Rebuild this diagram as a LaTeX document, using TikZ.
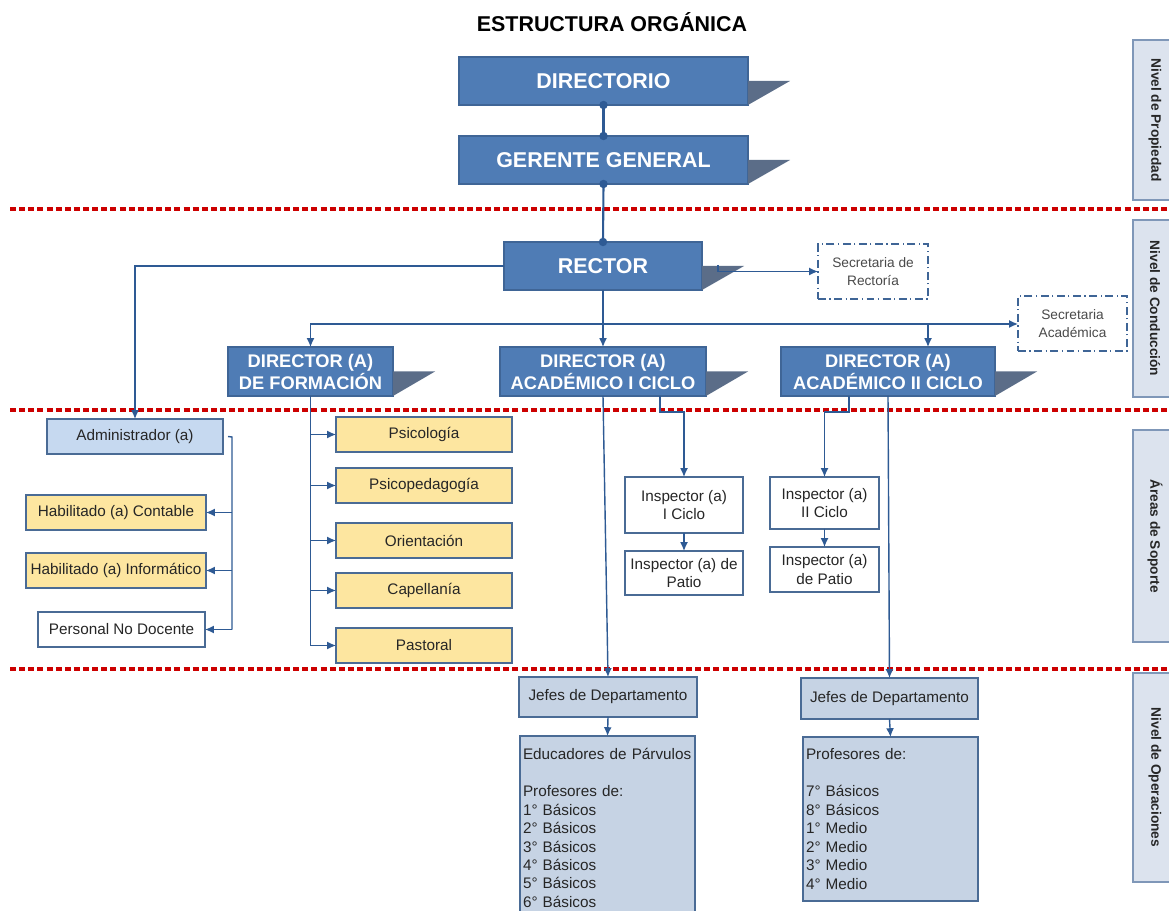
\documentclass[tikz,border=0pt]{standalone}
\usepackage{fontspec}
\setmainfont{Liberation Sans}
\usetikzlibrary{arrows.meta}
\definecolor{mblue}{HTML}{4F7CB5}
\definecolor{mborder}{HTML}{3F6596}
\definecolor{shadowc}{HTML}{5B6D88}
\definecolor{conn}{HTML}{2E5A94}
\definecolor{jefefill}{HTML}{C6D3E4}
\definecolor{jefeborder}{HTML}{4A6B95}
\definecolor{yellowfill}{HTML}{FDE6A0}
\definecolor{adminfill}{HTML}{C6D9F0}
\definecolor{levelfill}{HTML}{DCE3EE}
\definecolor{levelborder}{HTML}{7F97B8}
\definecolor{redline}{HTML}{CC0000}
\definecolor{darktext}{HTML}{262626}
\definecolor{graytext}{HTML}{4A4A4A}
\begin{document}
\begin{tikzpicture}[x=0.02cm,y=-0.02cm,
  wh/.style 2 args={minimum width=#1*0.02cm, minimum height=#2*0.02cm},
  basebox/.style={draw, rectangle, inner sep=0pt, outer sep=0pt, line width=0.6pt, align=center},
  bluebox/.style={basebox, fill=mblue, draw=mborder, text=white, font=\bfseries},
  bigfont/.style={font=\fontsize{12.2}{14}\selectfont\bfseries},
  midfont/.style={font=\fontsize{10.4}{12.5}\selectfont\bfseries},
  smallfont/.style={font=\fontsize{8.7}{10.5}\selectfont},
  yellowbox/.style={basebox, fill=yellowfill, draw=jefeborder, text=darktext, smallfont},
  whitebox/.style={basebox, fill=white, draw=jefeborder, text=darktext, smallfont},
  adminbox/.style={basebox, fill=adminfill, draw=jefeborder, text=darktext, smallfont},
  jefebox/.style={basebox, fill=jefefill, draw=jefeborder, text=darktext, smallfont},
  secbox/.style={basebox, fill=white, draw=mborder, text=graytext, line width=1.1pt,
     dash pattern=on 4.5pt off 2pt on 0.7pt off 2pt, font=\fontsize{7.8}{10}\selectfont},
  levelbox/.style={basebox, fill=levelfill, draw=levelborder, text=darktext,
     font=\fontsize{7.8}{9}\selectfont\bfseries},
  link/.style={draw=conn, line width=0.8pt},
  chain/.style={draw=conn, line width=1.2pt},
  arrowlink/.style={link, -{Latex[length=5pt,width=4.5pt]}},
  reddots/.style={draw=redline, line width=2.1pt, dash pattern=on 3.4pt off 1.8pt},
  shade/.style={fill=shadowc}
]
\useasboundingbox (0,0) rectangle (1169,911);
\clip (0,0) rectangle (1169,911);

% level separators
\draw[reddots] (10,209) -- (1169,209);
\draw[reddots] (10,410) -- (1169,410);
\draw[reddots] (10,669) -- (1169,669);

% title
\node[bigfont] (title) at (612,22) {ESTRUCTURA ORGÁNICA};

% level boxes
\node[levelbox, wh={44}{160}] (lv1) at (1155,120) {\rotatebox{-90}{Nivel de Propiedad}};
\node[levelbox, wh={44}{177}] (lv2) at (1155,308.5) {\rotatebox{-90}{Nivel de Conducción}};
\node[levelbox, wh={44}{212}] (lv3) at (1155,536) {\rotatebox{-90}{Áreas de Soporte}};
\node[levelbox, wh={44}{209}] (lv4) at (1155,777.5) {\rotatebox{-90}{Nivel de Operaciones}};

% top blue boxes
\node[bluebox, bigfont, wh={289}{48}] (dir) at (603.5,81) {DIRECTORIO};
\node[bluebox, bigfont, wh={289}{48}] (ger) at (603.5,160) {GERENTE GENERAL};
\node[bluebox, bigfont, wh={198}{48}] (rector) at (603,266) {RECTOR};
\node[bluebox, midfont, wh={165}{49}] (dirF) at (310.5,371.5) {DIRECTOR (A)\\DE FORMACIÓN};
\node[bluebox, midfont, wh={206}{49}] (dirI) at (603,371.5) {DIRECTOR (A)\\ACADÉMICO I CICLO};
\node[bluebox, midfont, wh={214}{49}] (dirII) at (888,371.5) {DIRECTOR (A)\\ACADÉMICO II CICLO};

% shadows
\foreach \n in {dir,ger,rector,dirF,dirI,dirII}{
  \fill[shade] (\n.east) -- ++(42,0) -- (\n.south east) -- cycle;
}

% secretarias
\node[secbox, wh={110}{55}] (secR) at (873,271.5) {Secretaria de\\Rectoría};
\node[secbox, wh={109}{55}] (secA) at (1072.5,323.5) {Secretaria\\Académica};

% administration branch
\node[adminbox, wh={176}{35}] (admin) at (135,436.5) {Administrador (a)};
\node[yellowbox, wh={180}{35}] (hab1) at (116,512.5) {Habilitado (a) Contable};
\node[yellowbox, wh={180}{35}] (hab2) at (116,570.5) {Habilitado (a) Informático};
\node[whitebox, wh={167}{35}] (pnd) at (121.5,629.5) {Personal No Docente};

% formation branch
\node[yellowbox, wh={176}{35}] (psico) at (424,434.5) {Psicología};
\node[yellowbox, wh={176}{35}] (psicop) at (424,485.5) {Psicopedagogía};
\node[yellowbox, wh={176}{35}] (orient) at (424,540.5) {Orientación};
\node[yellowbox, wh={176}{35}] (capel) at (424,590.5) {Capellanía};
\node[yellowbox, wh={176}{35}] (past) at (424,645.5) {Pastoral};

% inspectors
\node[whitebox, wh={118}{56}] (insp1) at (684,505) {Inspector (a)\\I Ciclo};
\node[whitebox, wh={118}{44}] (patio1) at (684,573) {Inspector (a) de\\Patio};
\node[whitebox, wh={109}{52}] (insp2) at (824.5,503) {Inspector (a)\\II Ciclo};
\node[whitebox, wh={109}{45}] (patio2) at (824.5,569.5) {Inspector (a)\\de Patio};

% operations
\node[jefebox, wh={178}{40}] (jefes1) at (608,697) {Jefes de Departamento};
\node[jefebox, wh={177}{41}] (jefes2) at (889.5,698.5) {Jefes de Departamento};
\node[jefebox, wh={175}{184}, text width=3.38cm, inner xsep=0.06cm, align=left] (edu) at (607.5,828)
  {Educadores de Párvulos\\[10.5pt]Profesores de:\\1° Básicos\\2° Básicos\\3° Básicos\\4° Básicos\\5° Básicos\\6° Básicos};
\node[jefebox, wh={175}{164}, text width=3.38cm, inner xsep=0.06cm, align=left] (prof) at (890.5,819)
  {Profesores de:\\[10.5pt]7° Básicos\\8° Básicos\\1° Medio\\2° Medio\\3° Medio\\4° Medio};

% --- connectors ---
% dotted top chain
\draw[chain] (dir.south) -- (ger.north);
\draw[chain] (ger.south) -- (rector.north);
\foreach \p in {dir.south,ger.north,ger.south,rector.north}{
  \fill[conn] (\p) circle (2.4pt);
}

% rector to secretaria de rectoria
\coordinate (rs) at (718,265);
\draw[arrowlink] (rs) |- (secR.west);

% rector to administrador
\draw[arrowlink] (rector.west) -| (admin.north);

% rector to directors and secretaria academica
\coordinate (jr) at (603,324);
\coordinate (jB) at (928,324);
\draw[link] (rector.south) -- (jr);
\draw[arrowlink] (jr) -| (dirF.north);
\draw[arrowlink] (jr) -- (dirI.north);
\draw[arrowlink] (jr) -- (secA.west |- jr);
\draw[arrowlink] (jB) -- (jB |- dirII.north);

% administrador branch
\coordinate (ab) at (232,437);
\draw[link] ([xshift=0.1cm]admin.east) -- (ab) -- (ab |- pnd.east);
\draw[arrowlink] (ab |- hab1.east) -- (hab1.east);
\draw[arrowlink] (ab |- hab2.east) -- (hab2.east);
\draw[arrowlink] (ab |- pnd.east) -- (pnd.east);

% formacion branch
\draw[link] (dirF.south) -- (dirF.south |- past.west);
\foreach \n in {psico,psicop,orient,capel,past}{
  \draw[arrowlink] (dirF.south |- \n.west) -- (\n.west);
}

% academico I
\coordinate (k1) at (660,412);
\draw[arrowlink] (dirI.south -| k1) -- (k1) -| (insp1.north);
\draw[arrowlink] (insp1.south) -- (patio1.north);
\draw[arrowlink] (dirI.south) -- (jefes1.north);
\draw[arrowlink] (jefes1.south) -- (edu.north);

% academico II
\coordinate (k2) at (849,412);
\draw[arrowlink] (dirII.south -| k2) -- (k2) -| (insp2.north);
\draw[arrowlink] (insp2.south) -- (patio2.north);
\draw[arrowlink] (dirII.south) -- (jefes2.north);
\draw[arrowlink] (jefes2.south) -- (prof.north);
\end{tikzpicture}
\end{document}
